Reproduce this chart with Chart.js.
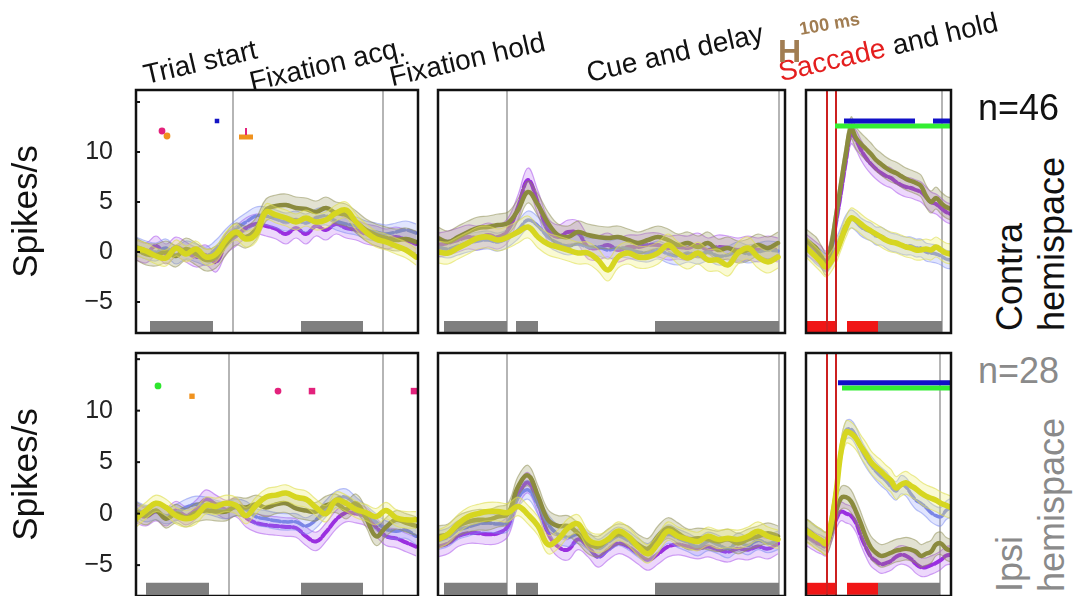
<!DOCTYPE html>
<html>
<head>
<meta charset="utf-8">
<script src="https://cdn.jsdelivr.net/npm/chart.js@4.4.1/dist/chart.umd.min.js"></script>
<style>
  body { margin: 0; background: #fff; width: 1081px; height: 596px; overflow: hidden; position: relative;
         font-family: "Liberation Sans", Arial, sans-serif; }
  canvas { position: absolute; }
  .lbl { position: absolute; white-space: nowrap; line-height: 1; }
  .tilt { transform-origin: 0 100%; transform: rotate(-13deg); font-size: 28px; color: #111; }
  .vert { transform-origin: 0 0; transform: rotate(-90deg); font-size: 36px; }
</style>
</head>
<body>

<canvas id="c11" width="420" height="247" style="left:0px;top:88px"></canvas>
<canvas id="c12" width="351" height="247" style="left:436px;top:88px"></canvas>
<canvas id="c13" width="149" height="247" style="left:804px;top:88px"></canvas>
<canvas id="c21" width="420" height="247" style="left:0px;top:351px"></canvas>
<canvas id="c22" width="351" height="247" style="left:436px;top:351px"></canvas>
<canvas id="c23" width="149" height="247" style="left:804px;top:351px"></canvas>

<div class="lbl tilt" style="left:147px;top:61px">Trial start</div>
<div class="lbl tilt" style="left:253px;top:68px">Fixation acq.</div>
<div class="lbl tilt" style="left:393px;top:63px">Fixation hold</div>
<div class="lbl tilt" style="left:590px;top:59px">Cue and delay</div>
<div class="lbl tilt" style="left:782px;top:58px"><span style="color:#e41e1e">Saccade</span> and hold</div>
<div class="lbl" style="left:778px;top:35px;font-size:32px;font-weight:bold;color:#a17d52">H</div>
<div class="lbl" style="left:801px;top:20px;font-size:18px;font-weight:bold;color:#a17d52;transform-origin:0 100%;transform:rotate(-10deg)">100 ms</div>

<div class="lbl" style="left:978px;top:90px;font-size:36px;color:#111">n=46</div>
<div class="lbl vert" style="left:992px;top:331px;color:#111">Contra</div>
<div class="lbl vert" style="left:1034px;top:331px;color:#111">hemispace</div>
<div class="lbl" style="left:978px;top:353px;font-size:36px;color:#8a8a8a">n=28</div>
<div class="lbl vert" style="left:992px;top:592px;color:#8a8a8a">Ipsi</div>
<div class="lbl vert" style="left:1034px;top:592px;color:#8a8a8a">hemispace</div>

<script>
// ---- population firing rates (spikes/s), one value per time bin ----
// Trial start / fixation epochs
const r1p1Purple = [0.2,-0.1,0.6,-0.2,0.5,0.0,-0.5,-0.3,-1.0,0.8,1.6,2.4,2.8,2.6,2.3,1.8,2.4,1.8,2.6,2.2,2.8,2.4,2.2,1.8,1.6,1.3,1.5,1.2,0.8];
const r1p1Blue   = [0.6,0.2,0.0,0.4,-0.3,0.2,-0.1,-0.4,0.3,1.4,2.3,3.0,3.6,3.6,3.3,3.0,3.2,2.9,3.4,3.6,3.1,2.8,2.6,2.2,2.0,1.8,2.0,2.2,1.9];
const r1p1Olive  = [0.3,-0.2,-0.3,0.0,-0.4,0.3,-0.2,-0.8,-0.5,0.8,1.8,1.5,2.3,4.2,4.6,4.7,4.4,4.3,4.0,4.4,3.9,3.7,3.0,2.2,1.7,1.4,1.2,1.3,1.0];
const r1p1Yellow = [0.4,0.1,-0.4,-0.6,0.4,-0.2,0.3,-0.5,-0.2,1.2,2.0,1.3,1.8,4.0,3.7,3.4,3.0,3.4,3.0,3.2,3.9,4.2,3.0,2.0,1.3,1.0,0.6,0.2,-0.5];

const r2p1Purple = [0.0,-0.3,0.2,-0.3,0.3,-0.2,0.4,1.4,0.9,0.4,0.6,-0.4,-0.9,-1.1,-1.2,-1.3,-1.4,-2.2,-2.7,-1.8,-0.6,0.1,0.0,-0.3,-1.3,-2.2,-2.4,-2.8,-3.2];
const r2p1Blue   = [0.4,0.0,0.2,-0.2,0.1,0.6,0.9,0.8,0.5,0.3,0.6,0.4,-0.3,-0.5,-0.7,-0.8,-0.8,-1.2,-0.6,0.5,1.4,1.6,0.8,0.0,-0.8,-1.5,-1.7,-1.6,-2.2];
const r2p1Olive  = [0.2,-0.2,0.3,-0.5,0.0,-0.4,0.1,0.3,0.2,0.2,0.7,0.6,0.9,0.6,0.9,1.0,0.5,0.3,0.2,0.8,1.0,0.4,1.0,-0.4,-2.2,-1.3,-0.6,-0.9,-1.2];
const r2p1Yellow = [-0.5,0.3,1.0,0.6,-0.2,-0.5,-0.2,0.8,0.7,1.0,0.8,-0.2,0.8,1.6,1.8,2.0,1.6,1.4,0.6,0.0,1.3,1.0,0.4,0.1,-0.3,0.3,-0.4,-0.6,-0.6];

// Cue and delay epoch
const r1p2Purple = [0.7,0.9,1.2,1.5,1.4,1.7,1.5,2.2,4.5,7.2,4.9,2.2,1.5,2.0,1.9,0.5,0.4,0.7,0.2,0.5,0.5,0.7,0.7,0.4,0.5,0.4,0.7,0.2,0.5,0.4,0.2,0.4,0.2,0.4,0.2];
const r1p2Blue   = [0.5,0.3,0.6,0.9,1.1,1.2,1.0,1.4,2.2,3.2,2.6,1.5,0.9,0.6,0.8,0.5,0.5,0.2,0.4,0.3,0.0,-0.1,0.2,-0.2,-0.4,-0.1,-0.3,0.0,-0.4,-0.3,0.1,-0.2,0.0,0.2,0.1];
const r1p2Olive  = [1.4,1.0,1.5,2.0,2.4,2.5,2.7,2.9,4.2,6.0,4.7,2.9,1.7,1.5,2.0,1.7,1.5,1.4,1.5,1.2,0.9,1.2,1.5,1.2,0.7,0.9,0.5,0.9,0.2,0.4,0.0,0.2,0.7,0.4,0.9];
const r1p2Yellow = [0.0,-0.1,0.4,0.9,1.4,1.5,1.2,1.5,2.0,2.5,1.5,0.8,0.5,0.2,-0.1,-0.1,-0.8,-1.8,-0.5,-0.1,-0.5,-0.5,-0.1,0.7,-0.1,-0.6,-0.1,-0.8,-0.8,-1.3,-0.1,0.4,-0.5,-1.0,-0.5];

const r2p2Purple = [-3.2,-2.9,-2.2,-1.9,-1.9,-2.0,-1.9,-1.2,1.7,3.0,1.0,-1.9,-3.2,-3.5,-2.5,-3.2,-4.2,-3.5,-2.9,-3.2,-3.9,-4.5,-3.9,-3.2,-3.0,-3.2,-3.4,-3.2,-3.5,-3.7,-3.4,-3.5,-3.2,-3.4,-2.9];
const r2p2Blue   = [-2.6,-2.3,-1.6,-1.3,-1.0,-0.9,-1.0,-0.8,1.5,2.3,0.8,-1.0,-2.0,-2.3,-2.0,-2.6,-3.4,-2.8,-2.2,-2.6,-3.3,-3.8,-2.8,-2.0,-2.4,-2.8,-3.2,-2.7,-3.0,-3.4,-2.8,-3.1,-2.6,-2.9,-2.6];
const r2p2Olive  = [-2.2,-2.0,-1.2,-0.8,-0.6,-0.6,-0.3,0.0,2.6,3.7,1.7,-0.6,-1.2,-1.2,-1.9,-2.9,-3.2,-2.5,-2.0,-2.2,-3.0,-3.4,-2.2,-1.4,-1.9,-2.5,-2.4,-2.5,-2.7,-2.5,-2.9,-2.5,-2.2,-1.9,-2.2];
const r2p2Yellow = [-2.5,-2.0,-1.0,-0.3,0.0,0.2,0.2,0.1,0.7,-0.1,-1.2,-3.0,-2.5,-1.4,-1.0,-2.5,-2.9,-2.5,-1.7,-2.2,-3.2,-3.9,-2.9,-1.7,-2.2,-2.5,-2.7,-2.2,-2.5,-2.4,-2.5,-2.2,-1.7,-2.2,-2.5];

// Saccade and hold epoch (finer bins)
const r1p3Purple = [0.8,0.4,0.0,-0.4,-0.9,0.2,3.0,6.0,9.2,11.8,11.2,10.2,9.4,8.8,8.3,7.9,7.6,7.4,7.0,6.7,6.5,6.4,6.2,6.0,5.5,5.0,4.8,4.4,4.0,3.8];
const r1p3Blue   = [0.6,0.2,-0.3,-0.7,-1.1,-0.6,0.4,1.6,2.8,3.3,3.0,2.5,2.2,2.0,1.6,1.6,1.3,1.0,0.9,0.7,0.6,0.6,0.4,0.4,0.0,-0.1,-0.2,-0.4,-0.7,-0.8];
const r1p3Olive  = [1.2,0.8,0.4,-0.4,-1.2,0.5,3.6,6.8,9.9,12.4,11.4,10.8,10.3,9.8,9.2,8.8,8.4,8.1,7.9,7.6,7.3,7.1,6.9,6.6,5.6,5.0,5.4,4.9,4.5,4.3];
const r1p3Yellow = [0.5,0.0,-0.5,-1.0,-1.5,-1.0,-0.1,1.2,2.5,3.4,3.2,2.8,2.4,2.1,1.8,1.5,1.2,1.0,0.9,0.7,0.5,0.4,0.2,0.2,0.3,0.2,0.5,0.2,-0.1,-0.2];

const r2p3Purple = [-2.2,-2.5,-2.8,-3.0,-3.2,-2.0,-0.6,0.2,0.0,-0.2,-0.9,-2.2,-3.3,-4.2,-4.6,-4.9,-4.8,-4.6,-4.2,-4.0,-4.1,-4.4,-4.9,-5.2,-5.2,-5.0,-4.8,-4.5,-4.1,-4.0];
const r2p3Blue   = [-1.4,-1.8,-2.2,-2.5,-2.7,-0.8,2.3,6.2,8.1,8.2,7.5,6.3,5.4,4.7,4.1,3.6,3.2,2.6,2.2,2.8,2.6,1.9,1.3,1.0,0.6,0.1,-0.2,-0.3,0.3,0.6];
const r2p3Olive  = [-1.6,-1.9,-2.3,-2.6,-2.9,-1.8,0.2,1.5,1.6,1.2,0.2,-1.0,-2.3,-3.3,-3.8,-4.1,-4.0,-3.8,-3.6,-3.5,-3.4,-3.5,-3.7,-4.1,-3.9,-3.7,-3.0,-2.9,-3.4,-3.6];
const r2p3Yellow = [-1.6,-2.0,-2.3,-2.6,-2.9,-1.0,2.0,6.0,7.9,7.8,7.3,6.5,5.8,5.0,4.5,4.1,3.6,3.2,2.5,2.8,3.0,2.7,2.4,2.0,1.7,1.5,1.3,1.0,0.8,0.6];

// SEM per series (purple, blue, olive, yellow)
const semR1P1 = [1.0, 0.9, 1.1, 0.8];
const semR1P2 = [1.2, 0.9, 1.1, 1.1];
const semR1P3 = [1.0, 0.9, 1.1, 1.0];
const semR2P1 = [0.9, 0.8, 0.9, 0.8];
const semR2P2 = [1.0, 0.9, 1.0, 0.9];
const semR2P3 = [0.9, 0.9, 1.1, 1.1];

// epoch boundaries (bin units) and analysis windows
const vlinesR1P1 = [9.7, 24.7];
const vlinesR2P1 = [9.3, 24.7];
const vlinesP2   = [6.9, 34.1];
const vlinesR1P3 = [27.2];
const vlinesR2P3 = [26.8];
const saccadeLines = [4.2, 6.0];
const windowsR1P1 = [[1.4, 7.7], [16.5, 22.7]];
const windowsR2P1 = [[1.0, 7.3], [16.5, 22.7]];
const windowsP2   = [[0.6, 6.9], [7.8, 10.0], [21.7, 34.1]];
const redWindowsP3 = [[0, 6.2], [8.2, 14.4]];
const grayWindowR1P3 = [[14.4, 27.2]];
const grayWindowR2P3 = [[14.4, 26.8]];

// significance bars in the saccade epoch: [start, end, level]
const sigBlueR1 = [[7.6, 21.8, 13.1], [25.4, 29, 13.1]];
const sigGreenR1 = [[5.8, 29, 12.6]];
const sigBlueR2 = [[6.4, 29, 12.7]];
const sigGreenR2 = [[7.2, 29, 12.2]];

// significance markers in the first epoch: [bin, level]
const dotsR1 = { magenta: [[2.6, 12.1]], orange: [[3.1, 11.6]] };
const squaresR1 = { blue: [[8.1, 13.1]] };
const dotsR2 = { green: [[2.2, 12.4]], magenta: [[14.2, 11.9]] };
const squaresR2 = { orange: [[5.6, 11.4]], magenta: [[17.6, 11.9], [27.8, 11.9]] };

const yTicks = [-5, 0, 5, 10];

const STYLE = [
  { line: '#9a2fe0', band: 'rgba(190,115,245,0.28)', edge: 'rgba(170,85,235,0.55)', width: 4, dash: [9, 3] },
  { line: '#7b86e6', band: 'rgba(135,150,250,0.25)', edge: 'rgba(120,135,240,0.5)', width: 3.5, dash: [9, 3] },
  { line: '#8b8b3e', band: 'rgba(150,150,95,0.28)', edge: 'rgba(140,140,80,0.5)', width: 4.5, dash: [] },
  { line: '#d6d620', band: 'rgba(238,238,110,0.30)', edge: 'rgba(222,222,80,0.6)', width: 5.5, dash: [] },
];
const MARK = { magenta: '#e3227c', orange: '#f0921e', blue: '#1414c4', green: '#2ee62e' };
const SQUARE_SIZE = { magenta: 4.6, orange: 3.8, blue: 3.2 };

const pts = (vals, step, d = 0) => vals.map((v, i) => ({ x: i * step, y: v + d }));
const seg = (x0, x1, y) => [{ x: x0, y }, { x: x1, y }];

const panelFrame = {
  id: 'panelFrame',
  afterDatasetsDraw(chart) {
    const { ctx, chartArea: a } = chart;
    ctx.save();
    ctx.strokeStyle = '#111';
    ctx.lineWidth = 2.5;
    ctx.strokeRect(a.left, a.top, a.width, a.height);
    if (chart.options.scales.y.display) {
      const ys = chart.scales.y;
      ctx.lineWidth = 2;
      [-5, 0, 5, 10, 15].forEach(v => {
        const py = ys.getPixelForValue(v);
        ctx.beginPath();
        ctx.moveTo(a.left, py);
        ctx.lineTo(a.left + 4, py);
        ctx.stroke();
      });
    }
    ctx.restore();
  }
};

function makePanel(id, p) {
  const ds = [];
  const [yMin, yMax] = p.yRange;
  const line = (data, color, width, order, extra = {}) =>
    ds.push(Object.assign({ data, borderColor: color, borderWidth: width, pointRadius: 0,
      fill: false, tension: 0, order, clip: 0, borderCapStyle: 'butt' }, extra));

  p.vlines.forEach(x => line([{ x, y: yMin }, { x, y: yMax }], '#9c9c9c', 1.5, 100));

  p.traces.forEach((vals, s) => {
    const st = STYLE[s];
    const base = 90 - s * 10;
    // band: upper edge filled down to lower edge
    line(pts(vals, p.step, p.sem[s]), st.edge, 1.2, base,
      { fill: '+1', backgroundColor: st.band, tension: 0.4 });
    line(pts(vals, p.step, -p.sem[s]), st.edge, 1.2, base, { tension: 0.4 });
    line(pts(vals, p.step), st.line, st.width, base - 5,
      { tension: 0.4, borderDash: st.dash, borderCapStyle: 'round', borderJoinStyle: 'round' });
  });

  (p.grayWindows || []).forEach(w => line(seg(w[0], w[1], p.barY), '#7f7f7f', 12, 40));
  (p.redWindows || []).forEach(w => line(seg(w[0], w[1], p.barY), '#f01616', 12, 39));
  (p.redLines || []).forEach(x => line([{ x, y: yMin }, { x, y: yMax }], '#cc2020', 2, 30));
  (p.sigGreen || []).forEach(b => line(seg(b[0], b[1], b[2]), '#33ee33', 5, 21));
  (p.sigBlue || []).forEach(b => line(seg(b[0], b[1], b[2]), '#1010c8', 5, 20));
  (p.sigTicks || []).forEach(b => line(seg(b[0], b[1], b[2]), MARK.orange, 5, 12));

  Object.entries(p.dots || {}).forEach(([c, list]) =>
    ds.push({ data: list.map(([x, y]) => ({ x, y })), showLine: false, pointRadius: 3.4,
      pointStyle: 'circle', pointBackgroundColor: MARK[c], pointBorderWidth: 0, order: 10 }));
  Object.entries(p.squares || {}).forEach(([c, list]) =>
    ds.push({ data: list.map(([x, y]) => ({ x, y })), showLine: false, pointRadius: SQUARE_SIZE[c],
      pointStyle: 'rect', pointBackgroundColor: MARK[c], pointBorderWidth: 0, order: 10 }));
  (p.pinTicks || []).forEach(t => line([{ x: t[0], y: t[1] }, { x: t[0], y: t[2] }], MARK.magenta, 2, 11));

  const yScale = p.showY ? {
    min: yMin, max: yMax, display: true,
    afterBuildTicks: sc => { sc.ticks = yTicks.map(v => ({ value: v })); },
    // fixed gutter width, and no extra vertical room for the tick labels
    afterFit: sc => { sc.width = 136; sc.paddingTop = 0; sc.paddingBottom = 0; },
    grid: { display: false, drawTicks: false },
    border: { display: false },
    ticks: { padding: 23, color: '#222', font: { size: 25, family: 'Liberation Sans' },
      callback: v => (v < 0 ? '\u2212' + Math.abs(v) : String(v)) },
    title: { display: true, text: 'Spikes/s', color: '#111', padding: { top: 6, bottom: 0 },
      font: { size: 35, family: 'Liberation Sans' } },
  } : { min: yMin, max: yMax, display: false };

  return new Chart(document.getElementById(id), {
    type: 'line',
    data: { datasets: ds },
    options: {
      responsive: false, animation: false, events: [],
      layout: { autoPadding: false, padding: { left: p.showY ? 0 : 2, right: 2, top: 2, bottom: 2 } },
      plugins: { legend: { display: false }, tooltip: { enabled: false } },
      scales: { x: { type: 'linear', min: 0, max: p.xMax, display: false }, y: yScale },
    },
    plugins: [panelFrame],
  });
}

const ROW1_Y = [-8.1, 16.2];
const ROW2_Y = [-8.0, 15.6];

makePanel('c11', { yRange: ROW1_Y, xMax: 28.2, step: 1, showY: true, barY: -7.5,
  traces: [r1p1Purple, r1p1Blue, r1p1Olive, r1p1Yellow], sem: semR1P1,
  vlines: vlinesR1P1, grayWindows: windowsR1P1, dots: dotsR1, squares: squaresR1,
  sigTicks: [[10.3, 11.7, 11.5]], pinTicks: [[11.0, 11.7, 12.4]] });
makePanel('c12', { yRange: ROW1_Y, xMax: 34.7, step: 1, barY: -7.5,
  traces: [r1p2Purple, r1p2Blue, r1p2Olive, r1p2Yellow], sem: semR1P2,
  vlines: vlinesP2, grayWindows: windowsP2 });
makePanel('c13', { yRange: ROW1_Y, xMax: 29, step: 1, barY: -7.5,
  traces: [r1p3Purple, r1p3Blue, r1p3Olive, r1p3Yellow], sem: semR1P3,
  vlines: vlinesR1P3, redLines: saccadeLines, redWindows: redWindowsP3, grayWindows: grayWindowR1P3,
  sigBlue: sigBlueR1, sigGreen: sigGreenR1 });

makePanel('c21', { yRange: ROW2_Y, xMax: 28.2, step: 1, showY: true, barY: -7.3,
  traces: [r2p1Purple, r2p1Blue, r2p1Olive, r2p1Yellow], sem: semR2P1,
  vlines: vlinesR2P1, grayWindows: windowsR2P1, dots: dotsR2, squares: squaresR2 });
makePanel('c22', { yRange: ROW2_Y, xMax: 34.7, step: 1, barY: -7.3,
  traces: [r2p2Purple, r2p2Blue, r2p2Olive, r2p2Yellow], sem: semR2P2,
  vlines: vlinesP2, grayWindows: windowsP2 });
makePanel('c23', { yRange: ROW2_Y, xMax: 29, step: 1, barY: -7.3,
  traces: [r2p3Purple, r2p3Blue, r2p3Olive, r2p3Yellow], sem: semR2P3,
  vlines: vlinesR2P3, redLines: saccadeLines, redWindows: redWindowsP3, grayWindows: grayWindowR2P3,
  sigBlue: sigBlueR2, sigGreen: sigGreenR2 });
</script>
</body>
</html>
